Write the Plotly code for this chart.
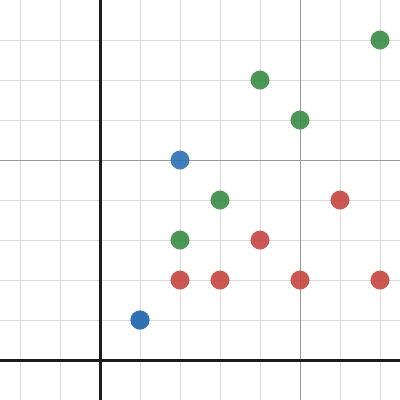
import plotly.graph_objects as go

blue_x = [2, 1, 1]
blue_y = [5, 1, 1]
green_x = [7, 4, 5, 3, 2]
green_y = [8, 7, 6, 4, 3]
red_x = [6, 4, 2, 3, 5, 7]
red_y = [4, 3, 2, 2, 2, 2]

fig = go.Figure()
for xs, ys, c in [(red_x, red_y, "#c74440"), (green_x, green_y, "#388c46"), (blue_x, blue_y, "#2d70b3")]:
    fig.add_trace(go.Scatter(x=xs, y=ys, mode="markers",
                             marker=dict(size=19, color=c, opacity=0.9, line=dict(width=0)),
                             showlegend=False, hoverinfo="skip"))

axis_common = dict(
    showticklabels=False, ticks="", dtick=5, tick0=0,
    showgrid=True, gridcolor="#9a9a9a", gridwidth=1.3,
    minor=dict(dtick=1, tick0=0, showgrid=True, gridcolor="#dcdcdc", gridwidth=1),
    zeroline=True, zerolinecolor="#1c1c1c", zerolinewidth=3,
    showline=False, fixedrange=True,
)
fig.update_layout(
    width=400, height=400, margin=dict(l=0, r=0, t=0, b=0),
    plot_bgcolor="white", paper_bgcolor="white",
    xaxis=dict(range=[-2.5, 7.5], **axis_common),
    yaxis=dict(range=[-1, 9], **axis_common),
)
fig.write_html("out.html", config={"displayModeBar": False},
               post_script="document.body.style.margin='0';document.body.style.padding='0';document.body.style.overflow='hidden';")
